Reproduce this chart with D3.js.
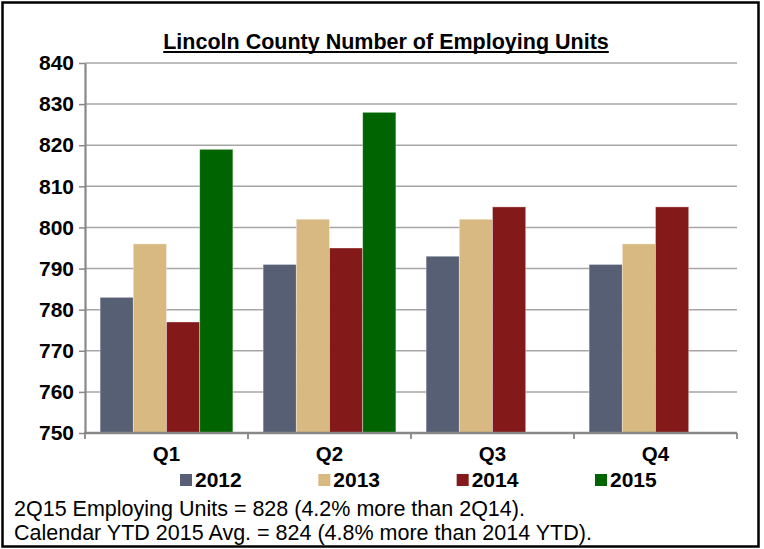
<!DOCTYPE html>
<html>
<head>
<meta charset="utf-8">
<script src="https://cdn.jsdelivr.net/npm/d3@7"></script>
<style>
  html, body { margin: 0; padding: 0; background: #fff; }
  svg { display: block; font-family: Arial, "Liberation Sans", sans-serif; }
</style>
</head>
<body>
<script>
// Quarterly count of employing units, Lincoln County
const quarters = ["Q1", "Q2", "Q3", "Q4"];
const years = ["2012", "2013", "2014", "2015"];
const values2012 = [783, 791, 793, 791];
const values2013 = [796, 802, 802, 796];
const values2014 = [777, 795, 805, 805];
const values2015 = [819, 828, null, null];
const seriesColors = ["#575f75", "#d9b982", "#841919", "#006400"];
const yTicks = [750, 760, 770, 780, 790, 800, 810, 820, 830, 840];
const titleText = "Lincoln County Number of Employing Units";
const notes = [
  "2Q15 Employing Units = 828 (4.2% more than 2Q14).",
  "Calendar YTD 2015 Avg. = 824 (4.8% more than 2014 YTD)."
];

const series = [values2012, values2013, values2014, values2015];

const W = 764, H = 549;
const plot = { left: 85, right: 737, top: 63, bottom: 433 };

const svg = d3.select("body").append("svg")
  .attr("width", W).attr("height", H);

// outer frame
svg.append("rect")
  .attr("x", 2.5).attr("y", 2.5)
  .attr("width", 756).attr("height", 544)
  .attr("fill", "#fff").attr("stroke", "#000").attr("stroke-width", 2.5);

// title with underline
const title = svg.append("text")
  .attr("x", 386).attr("y", 49)
  .attr("text-anchor", "middle")
  .attr("font-size", 21.5).attr("font-weight", "bold")
  .text(titleText);
const tb = title.node().getBBox();
svg.append("line")
  .attr("x1", tb.x).attr("x2", tb.x + tb.width)
  .attr("y1", 52).attr("y2", 52)
  .attr("stroke", "#000").attr("stroke-width", 2);

const x = d3.scaleBand().domain(quarters).range([plot.left, plot.right]);
const xs = d3.scaleBand().domain(years).range([0, x.bandwidth()])
  .paddingInner(0).paddingOuter(0.455);
const y = d3.scaleLinear().domain([750, 840]).range([plot.bottom, plot.top]);

// gridlines
svg.append("g").selectAll("line")
  .data(yTicks.filter(t => t > 750))
  .join("line")
  .attr("x1", plot.left).attr("x2", plot.right)
  .attr("y1", d => y(d)).attr("y2", d => y(d))
  .attr("stroke", "#a6a6a6").attr("stroke-width", 1.5);

// bars
const rows = [];
quarters.forEach((q, i) => {
  years.forEach((yr, j) => {
    const v = series[j][i];
    if (v != null) rows.push({ q, yr, v, c: seriesColors[j] });
  });
});
svg.append("g").selectAll("rect")
  .data(rows)
  .join("rect")
  .attr("x", d => x(d.q) + xs(d.yr))
  .attr("y", d => y(d.v))
  .attr("width", xs.bandwidth())
  .attr("height", d => y(750) - y(d.v))
  .attr("fill", d => d.c)
  .attr("stroke", "rgba(255,255,255,0.45)")
  .attr("stroke-width", 0.8);

// y axis
const yAxis = svg.append("g")
  .attr("transform", `translate(${plot.left},0)`)
  .call(d3.axisLeft(y).tickValues(yTicks).tickSize(6).tickPadding(5).tickSizeOuter(0));
yAxis.select(".domain").attr("stroke", "#888").attr("stroke-width", 2.2);
yAxis.selectAll(".tick line").attr("stroke", "#888").attr("stroke-width", 1.5);
yAxis.selectAll(".tick text")
  .attr("font-size", 21).attr("font-weight", "bold")
  .attr("font-family", "Arial, 'Liberation Sans', sans-serif")
  .attr("fill", "#000");

// x axis with ticks at category boundaries
const xAxisG = svg.append("g");
xAxisG.append("line")
  .attr("x1", plot.left - 1).attr("x2", plot.right)
  .attr("y1", plot.bottom).attr("y2", plot.bottom)
  .attr("stroke", "#888").attr("stroke-width", 2.5);
const bounds = quarters.map(q => x(q)).concat([x(quarters[quarters.length - 1]) + x.bandwidth()]);
xAxisG.selectAll("line.b")
  .data(bounds)
  .join("line").attr("class", "b")
  .attr("x1", d => d).attr("x2", d => d)
  .attr("y1", plot.bottom).attr("y2", plot.bottom + 6)
  .attr("stroke", "#888").attr("stroke-width", 1.8);
xAxisG.selectAll("text")
  .data(quarters)
  .join("text")
  .attr("x", d => x(d) + x.bandwidth() / 2)
  .attr("y", 461)
  .attr("text-anchor", "middle")
  .attr("font-size", 20.5).attr("font-weight", "bold")
  .text(d => d);

// legend
const legendX = d3.scalePoint().domain(years).range([180, 595]);
const lg = svg.append("g").selectAll("g")
  .data(years)
  .join("g")
  .attr("transform", d => `translate(${legendX(d)},0)`);
lg.append("rect")
  .attr("x", 0).attr("y", 474)
  .attr("width", 12).attr("height", 12)
  .attr("fill", (d, i) => seriesColors[i]);
lg.append("text")
  .attr("x", 15).attr("y", 487)
  .attr("font-size", 21).attr("font-weight", "bold")
  .text(d => d);

// notes
svg.append("g").selectAll("text")
  .data(notes)
  .join("text")
  .attr("x", 14)
  .attr("y", (d, i) => 516 + i * 24)
  .attr("font-size", 21.5)
  .text(d => d);
</script>
</body>
</html>
